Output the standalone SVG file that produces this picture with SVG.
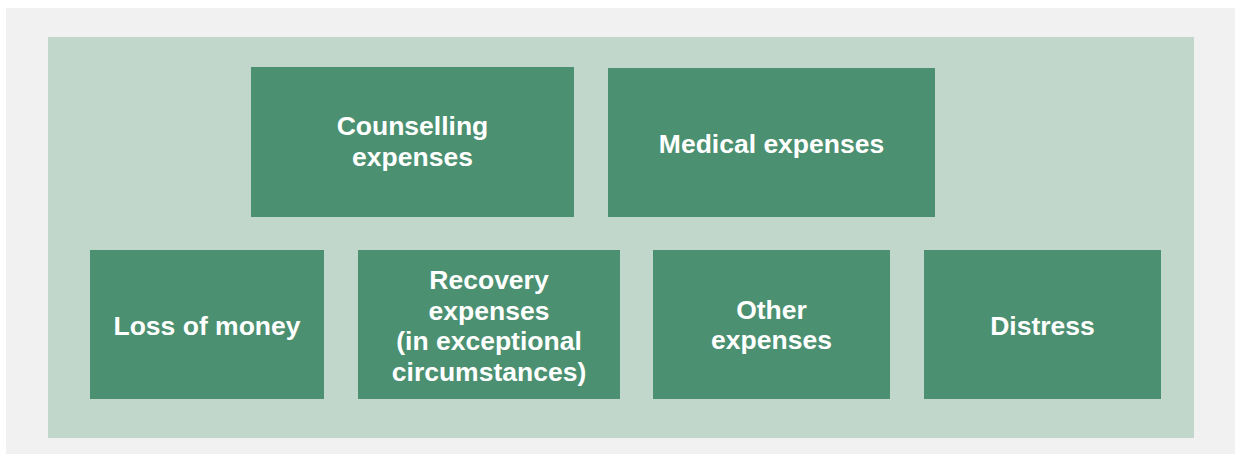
<svg xmlns="http://www.w3.org/2000/svg" width="1235" height="454" viewBox="0 0 1235 454">
<style>
.box{fill:#4b9070}
.lbl{font-family:"Liberation Sans",Arial,sans-serif;font-weight:bold;font-size:26.5px;fill:#ffffff;text-anchor:middle}
</style>
<rect x="0" y="0" width="1235" height="454" fill="#ffffff"/>
<rect x="6" y="8" width="1229" height="446" fill="#f1f1f1"/>
<rect x="48" y="37" width="1146" height="401" fill="#c2d7cb"/>
<g id="counselling">
<rect class="box" x="251" y="67" width="323" height="150"/>
<text class="lbl" x="412.5" y="135">Counselling</text>
<text class="lbl" x="412.5" y="166">expenses</text>
</g>
<g id="medical">
<rect class="box" x="608" y="68" width="327" height="149"/>
<text class="lbl" x="771.5" y="152.5">Medical expenses</text>
</g>
<g id="loss">
<rect class="box" x="90" y="250" width="234" height="149"/>
<text class="lbl" x="207" y="335">Loss of money</text>
</g>
<g id="recovery">
<rect class="box" x="358" y="250" width="262" height="149"/>
<text class="lbl" x="489" y="289">Recovery</text>
<text class="lbl" x="489" y="319.5">expenses</text>
<text class="lbl" x="489" y="350">(in exceptional</text>
<text class="lbl" x="489" y="380.5">circumstances)</text>
</g>
<g id="other">
<rect class="box" x="653" y="250" width="237" height="149"/>
<text class="lbl" x="771.5" y="319">Other</text>
<text class="lbl" x="771.5" y="349">expenses</text>
</g>
<g id="distress">
<rect class="box" x="924" y="250" width="237" height="149"/>
<text class="lbl" x="1042.5" y="334.5">Distress</text>
</g>
<g id="connectors"></g>
</svg>
